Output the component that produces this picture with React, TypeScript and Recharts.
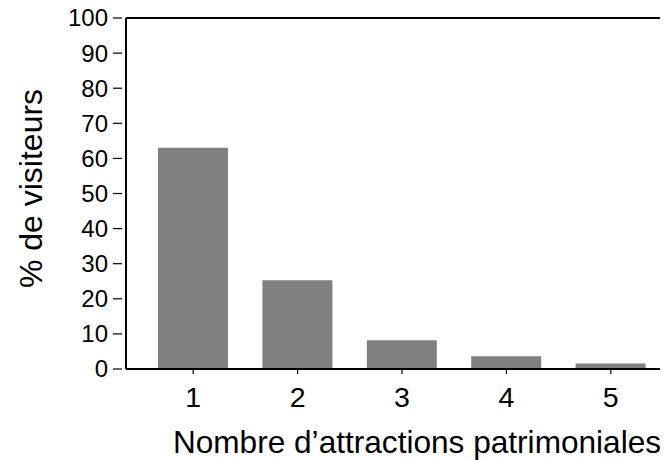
import { BarChart, Bar, XAxis, YAxis, ReferenceLine, Label } from "recharts";

const categories = ["1", "2", "3", "4", "5"];
const visitorShare = [63, 25.3, 8.2, 3.6, 1.6];
const yTicks = [0, 10, 20, 30, 40, 50, 60, 70, 80, 90, 100];

const FONT = "'Liberation Sans', Arial, sans-serif";
const BAR_COLOR = "#808080";

const data = categories.map((c, i) => ({ n: c, v: visitorShare[i] }));

function YTick({ x, y, payload }: any) {
  return (
    <g>
      <line x1={x - 13} x2={x - 4} y1={y} y2={y} stroke="#000" strokeWidth={1.2} />
      <text x={x - 18} y={y} dy="0.35em" textAnchor="end" fontSize={24} fontFamily={FONT} fill="#000">
        {payload.value}
      </text>
    </g>
  );
}

function XTick({ x, y, payload }: any) {
  return (
    <text x={x} y={y + 33} textAnchor="middle" fontSize={28.5} fontFamily={FONT} fill="#000">
      {payload.value}
    </text>
  );
}

export default function App() {
  return (
    <div style={{ margin: "-8px 0 0 -8px", width: 668, height: 460 }}>
      <BarChart width={668} height={460} data={data} margin={{ top: 18, right: 0, left: 0, bottom: 0 }}>
        <XAxis
          dataKey="n"
          height={91}
          padding={{ left: 15, right: 5 }}
          tickSize={5}
          tickMargin={0}
          axisLine={{ stroke: "#000", strokeWidth: 2 }}
          tickLine={{ stroke: "#000", strokeWidth: 1.2 }}
          tick={<XTick />}
          interval={0}
        >
          <Label
            content={({ viewBox }: any) => (
              <text
                x={viewBox.x + viewBox.width / 2 + 20}
                y={viewBox.y + 84}
                textAnchor="middle"
                fontSize={31.6}
                fontFamily={FONT}
                fill="#000"
              >
                Nombre d’attractions patrimoniales
              </text>
            )}
          />
        </XAxis>
        <YAxis
          width={126}
          domain={[0, 100]}
          ticks={yTicks}
          interval={0}
          tickSize={0}
          tickMargin={0}
          tickLine={false}
          axisLine={{ stroke: "#000", strokeWidth: 2 }}
          tick={<YTick />}
        >
          <Label
            content={({ viewBox }: any) => {
              const lx = 42;
              const ly = viewBox.y + viewBox.height / 2 - 5;
              return (
                <text
                  x={lx}
                  y={ly}
                  transform={`rotate(-90, ${lx}, ${ly})`}
                  textAnchor="middle"
                  fontSize={32}
                  fontFamily={FONT}
                  fill="#000"
                >
                  % de visiteurs
                </text>
              );
            }}
          />
        </YAxis>
        <ReferenceLine y={100} stroke="#000" strokeWidth={2} />
        <Bar dataKey="v" fill={BAR_COLOR} barSize={70} isAnimationActive={false} />
      </BarChart>
    </div>
  );
}
